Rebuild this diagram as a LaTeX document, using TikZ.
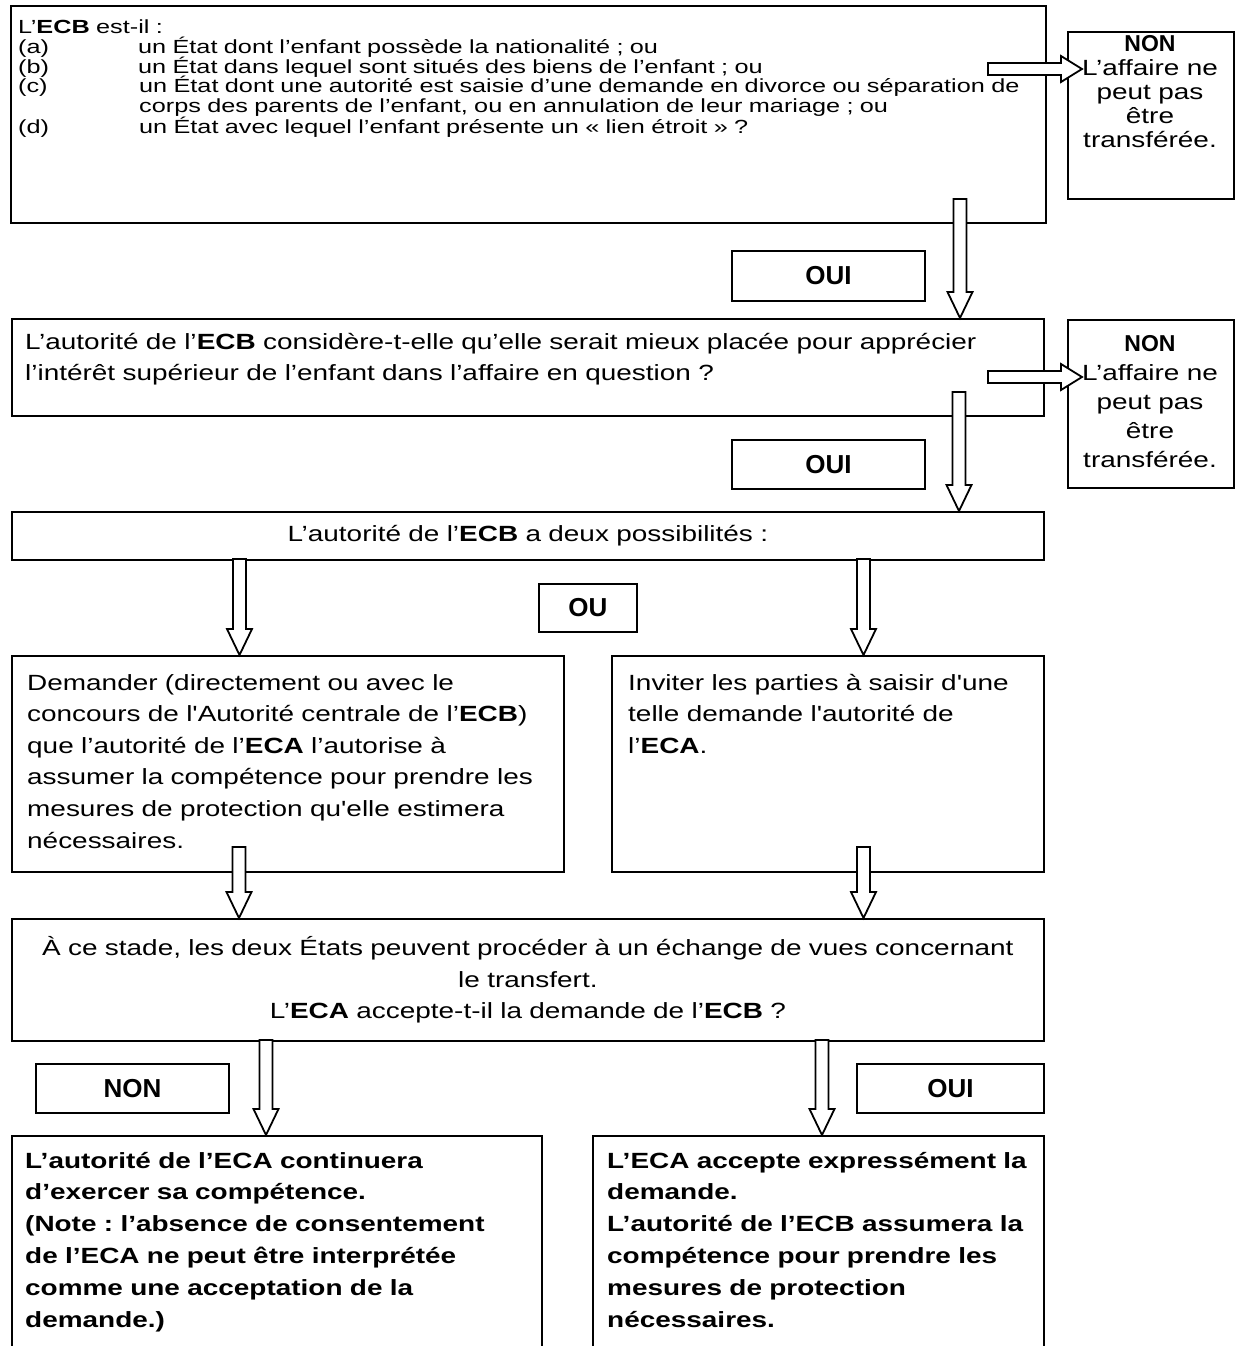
\documentclass[tikz,border=0pt]{standalone}
\usepackage{fontspec}
\usetikzlibrary{calc,positioning}
\newfontfamily\bodyfont{Liberation Sans}[FakeStretch=1.27]
\newfontfamily\listfont{Liberation Sans}[FakeStretch=1.33]
\newfontfamily\labelfont{Liberation Sans}
\frenchspacing
\tikzset{
      framebox/.style={
        draw,
        line width=1.8pt,
        inner sep=0pt,
        anchor=north west
      },
      bodytext/.style={
        inner sep=0pt,
        text width=#1,
        align=left,
        font=\bodyfont\fontsize{22}{31.6}\selectfont
      },
      centretext/.style={
        inner sep=0pt,
        text width=#1,
        align=center,
        font=\bodyfont\fontsize{22}{31.6}\selectfont
      },
      listtext/.style={
        inner sep=0pt,
        text width=#1,
        align=left,
        font=\listfont\fontsize{19}{19.6}\selectfont
      },
      answer/.style={
        framebox,
        font=\labelfont\bfseries\fontsize{26}{30}\selectfont
      },
      downarrow/.style={
        draw,
        fill=white,
        line width=1.8pt,
        to path={let \p1=(\tikztostart), \p2=(\tikztotarget) in
          (\x1-6.5pt,\y1) -- (\x1-6.5pt,\y2+26pt) -- (\x1-12.5pt,\y2+26pt) -- (\x1,\y2)
          -- (\x1+12.5pt,\y2+26pt) -- (\x1+6.5pt,\y2+26pt) -- (\x1+6.5pt,\y1) -- cycle}
      },
      rightarrow/.style={
        draw,
        fill=white,
        line width=1.8pt,
        to path={let \p1=(\tikztostart), \p2=(\tikztotarget) in
          (\x1,\y1+6pt) -- (\x2-21pt,\y1+6pt) -- (\x2-21pt,\y1+13pt) -- (\x2,\y1)
          -- (\x2-21pt,\y1-13pt) -- (\x2-21pt,\y1-6pt) -- (\x1,\y1-6pt) -- cycle}
      },
    }
\begin{document}
\begin{tikzpicture}[x=1pt,y=-1pt]

          \useasboundingbox (0,0) rectangle (1235,1346);
          \fill[white] (0,0) rectangle (1235,1346);
          \clip (0,0) rectangle (1235,1346);

          % first question
          \node[framebox,minimum width=1035pt,minimum height=217pt] (q1) at (10,5) {};
          \node[listtext=1020pt,anchor=base west] (q1text) at ([shift={(8,29)}]q1.north west)
            {\lineskiplimit=-50pt\relax
             L’\textbf{ECB} est-il :\\
             \makebox[120pt][l]{(a)}un État dont l’enfant possède la nationalité ; ou\\
             \makebox[120pt][l]{(b)}un État dans lequel sont situés des biens de l’enfant ; ou\\
             \makebox[121pt][l]{(c)}un État dont une autorité est saisie d’une demande en divorce ou séparation de\\
             \hspace*{121pt}corps des parents de l’enfant, ou en annulation de leur mariage ; ou\\
             \makebox[121pt][l]{(d)}un État avec lequel l’enfant présente un «~lien étroit~» ?};

          \node[framebox,minimum width=166pt,minimum height=167pt] (n1) at (1067,31) {};
          \node[centretext=160pt,anchor=base,font=\bodyfont\fontsize{22}{24}\selectfont]
            (n1text) at ([shift={(83,21)}]n1.north west)
            {\lineskiplimit=-50pt\relax
             {\labelfont\bfseries\fontsize{23}{24}\selectfont NON}\\L’affaire ne\\peut pas\\être\\transférée.};

          \node[answer,minimum width=193pt,minimum height=50pt] (oui1) at (731,250) {OUI};

          % second question
          \node[framebox,minimum width=1032pt,minimum height=97pt] (q2) at (11,318) {};
          \node[bodytext=1000pt,anchor=base west] (q2text) at ([shift={(14,31)}]q2.north west)
            {L’autorité de l’\textbf{ECB} considère-t-elle qu’elle serait mieux placée pour apprécier\\
             l’intérêt supérieur de l’enfant dans l’affaire en question ?};

          \node[framebox,minimum width=166pt,minimum height=168pt] (n2) at (1067,319) {};
          \node[centretext=160pt,anchor=base,font=\bodyfont\fontsize{22}{29}\selectfont]
            (n2text) at ([shift={(83,32)}]n2.north west)
            {{\labelfont\bfseries\fontsize{23}{29}\selectfont NON}\\L’affaire ne\\peut pas\\être\\transférée.};

          \node[answer,minimum width=193pt,minimum height=49pt] (oui2) at (731,439) {OUI};

          % two possibilities
          \node[framebox,minimum width=1032pt,minimum height=48pt] (choix) at (11,511) {};
          \node[centretext=1000pt] (choixtext) at (choix.center)
            {L’autorité de l’\textbf{ECB} a deux possibilités :};

          \node[answer,minimum width=98pt,minimum height=48pt] (ou) at (538,583) {OU};

          \node[framebox,minimum width=552pt,minimum height=216pt] (optA) at (11,655) {};
          \node[bodytext=530pt,anchor=base west] (optAtext) at ([shift={(16,35)}]optA.north west)
            {Demander (directement ou avec le\\
             concours de l'Autorité centrale de l’\textbf{ECB})\\
             que l’autorité de l’\textbf{ECA} l’autorise à\\
             assumer la compétence pour prendre les\\
             mesures de protection qu'elle estimera\\
             nécessaires.};

          \node[framebox,minimum width=432pt,minimum height=216pt] (optB) at (611,655) {};
          \node[bodytext=410pt,anchor=base west] (optBtext) at ([shift={(17,35)}]optB.north west)
            {Inviter les parties à saisir d'une\\
             telle demande l'autorité de\\
             l’\textbf{ECA}.};

          % exchange of views
          \node[framebox,minimum width=1032pt,minimum height=122pt] (echange) at (11,918) {};
          \node[centretext=1020pt] (echangetext) at (echange.center)
            {À ce stade, les deux États peuvent procéder à un échange de vues concernant\\
             le transfert.\\
             L’\textbf{ECA} accepte-t-il la demande de l’\textbf{ECB} ?};

          \node[answer,minimum width=193pt,minimum height=49pt] (non3) at (35,1063) {NON};
          \node[answer,minimum width=187pt,minimum height=49pt] (oui3) at (856,1063) {OUI};

          % outcomes
          \node[framebox,minimum width=530pt,minimum height=260pt] (refus) at (11,1135) {};
          \node[bodytext=510pt,anchor=base west,font=\bodyfont\bfseries\fontsize{22}{31.8}\selectfont]
            (refustext) at ([shift={(14,33)}]refus.north west)
            {L’autorité de l’ECA continuera\\
             d’exercer sa compétence.\\
             (Note : l’absence de consentement\\
             de l’ECA ne peut être interprétée\\
             comme une acceptation de la\\
             demande.)};

          \node[framebox,minimum width=451pt,minimum height=260pt] (accord) at (592,1135) {};
          \node[bodytext=430pt,anchor=base west,font=\bodyfont\bfseries\fontsize{22}{31.8}\selectfont]
            (accordtext) at ([shift={(15,33)}]accord.north west)
            {L’ECA accepte expressément la\\
             demande.\\
             L’autorité de l’ECB assumera la\\
             compétence pour prendre les\\
             mesures de protection\\
             nécessaires.};

          % block arrows
          \coordinate (h1s) at (988,69);
          \coordinate (h2s) at (988,377);
          \coordinate (a1s) at (960,199);
          \coordinate (a2s) at (959,392);
          \coordinate (a3s) at (239.5,559);
          \coordinate (a4s) at (863.5,559);
          \coordinate (a5s) at (239,847);
          \coordinate (a6s) at (863.5,847);
          \coordinate (a7s) at (266,1040);
          \coordinate (a8s) at (822,1040);

          \draw[rightarrow] (h1s) to ($(h1s -| n1.west)+(15,0)$);
          \draw[rightarrow] (h2s) to ($(h2s -| n2.west)+(15,0)$);
          \draw[downarrow] (a1s) to (a1s |- q2.north);
          \draw[downarrow] (a2s) to (a2s |- choix.north);
          \draw[downarrow] (a3s) to (a3s |- optA.north);
          \draw[downarrow] (a4s) to (a4s |- optB.north);
          \draw[downarrow] (a5s) to (a5s |- echange.north);
          \draw[downarrow] (a6s) to (a6s |- echange.north);
          \draw[downarrow] (a7s) to (a7s |- refus.north);
          \draw[downarrow] (a8s) to (a8s |- accord.north);

        \end{tikzpicture}
\end{document}
